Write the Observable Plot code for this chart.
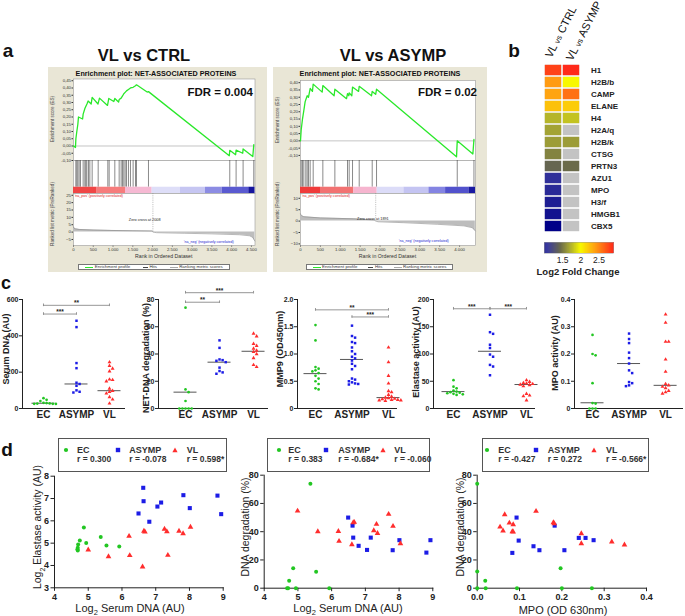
<!DOCTYPE html>
<html><head><meta charset="utf-8">
<script src="https://cdn.jsdelivr.net/npm/d3@7"></script>
<script src="https://cdn.jsdelivr.net/npm/@observablehq/plot@0.6"></script>
<style>
html,body{margin:0;padding:0;background:#fff;}
#root{position:relative;width:685px;height:616px;overflow:hidden;background:#fff;font-family:"Liberation Sans",Arial,Helvetica,sans-serif;}
.abs{position:absolute;}
svg{display:block;overflow:visible;}
</style></head><body><div id="root"></div>
<script>
const FONT = '"Liberation Sans", Arial, Helvetica, sans-serif';
const GREEN = "#22c622", BLUE = "#1c1ce6", RED = "#ff2d2d";

// ================= DATA =================
// ---- Panel a : GSEA VL vs CTRL ----
const esRank1  = [0,50,60,84,110,126,230,244,290,340,370,447,472,620,657,860,893,1020,1045,1140,1155,1205,1240,1272,1306,1340,1390,1441,1508,1568,1593,1862,1896,3940,3952,4100,4112,4280,4289,4534,4559];
const esScore1 = [0,-0.01,0.05,0.10,0.15,0.20,0.186,0.22,0.26,0.29,0.31,0.29,0.335,0.29,0.33,0.28,0.328,0.307,0.328,0.303,0.32,0.33,0.345,0.36,0.37,0.38,0.39,0.40,0.405,0.415,0.422,0.372,0.375,-0.067,-0.03,-0.06,-0.028,-0.05,-0.02,-0.073,0.009];
const hits1 = [59,84,110,143,177,244,287,312,337,379,413,472,624,868,902,1045,1155,1205,1239,1272,1306,1340,1390,1441,1508,1568,1593,1896,3952,4112,4289,4559];
const barStart1 = [0,598,1315,1989,2705,3337,3758,4433];
const barEnd1   = [598,1315,1989,2705,3337,3758,4433,4590];
const barColor1 = ["#f04646","#f67c7c","#f6b9d3","#dedef8","#c6c6f2","#8c8ce3","#5a5ad0","#16169e"];
const metricRank1 = [0,10,50,150,500,1000,1500,2000,2008,2100,2800,3500,4200,4450,4530,4585];
const metricVal1  = [3.5,2.8,2.2,1.8,1.4,1.1,0.9,0.7,0,-0.4,-0.8,-1.2,-1.8,-2.5,-3.5,-6];
const esTicks1 = [-0.10,-0.05,0,0.05,0.10,0.15,0.20,0.25,0.30,0.35,0.40,0.45];
const mTicks1 = [-5,0,5,10,15,20,25];
const rankTicks1 = [0,500,1000,1500,2000,2500,3000,3500,4000,4500];

// ---- Panel a : GSEA VL vs ASYMP ----
const esRank2  = [0,17,50,84,117,168,201,243,300,319,545,562,845,864,1157,1182,1215,1224,1290,1308,1460,1476,1786,1803,1890,1912,3923,3941,4334,4361];
const esScore2 = [0,0.075,0.15,0.21,0.27,0.31,0.30,0.36,0.34,0.39,0.335,0.38,0.31,0.355,0.29,0.325,0.31,0.33,0.31,0.37,0.34,0.375,0.31,0.34,0.32,0.355,-0.11,0.0,-0.09,0.01];
const hits2 = [17,50,84,134,168,201,243,319,562,864,1182,1224,1308,1476,1803,1912,3941,4361];
const barStart2 = [0,503,1342,1929,2600,3229,3648,4235];
const barEnd2   = [503,1342,1929,2600,3229,3648,4235,4400];
const barColor2 = ["#f03a3a","#f27272","#f6b5cf","#dcdcf8","#c4c4f2","#8484e2","#5252cc","#1a1aa2"];
const metricRank2 = [0,20,84,500,1340,1850,1891,1950,2600,3440,4110,4320,4395];
const metricVal2  = [3.2,2.5,1.9,1.4,1.0,0.5,0,-0.3,-0.7,-1.4,-2.1,-2.9,-4.3];
const esTicks2 = [-0.10,-0.05,0,0.05,0.10,0.15,0.20,0.25,0.30,0.35,0.40];
const mTicks2 = [-10,-5,0,5,10];
const rankTicks2 = [0,500,1000,1500,2000,2500,3000,3500,4000];

// ---- Panel b : heatmap ----
const genes = ["H1","H2B/b","CAMP","ELANE","H4","H2A/q","H2B/k","CTSG","PRTN3","AZU1","MPO","H3/f","HMGB1","CBX5"];
const hmCols = ["VL vs CTRL","VL vs ASYMP"];
const fcCtrl  = [2.8,2.42,2.38,2.25,1.75,1.68,1.65,1.55,1.42,1.0,0.95,0.85,0.75,0.6];
const fcAsymp = [2.9,2.0,2.6,2.2,1.8,null,1.65,null,1.45,null,null,null,null,null];
const fcStops  = [0.6,1.1,1.45,1.7,2.0,2.4,2.9];
const fcColors = ["#000088","#3c3c9e","#6a6a4a","#a8a832","#f8f800","#ffa012","#ff2a1a"];
const fcTicks = [1.5,2,2.5];

// ---- Panel c : dot plots ----
const cats = ["EC","ASYMP","VL"];
const serumEC = [57,48,41,31,30,28,27,26,26,25];
const serumASYMP = [483,448,250,222,142,135,125,100,92,88];
const serumVL = [255,235,220,205,160,157,150,110,97,92,83,63,50,28];
const serumCenter = [29,135,98];
const netEC = [74,14,12,5.5,0,0,0,0,0];
const netASYMP = [50,44.5,36,35.5,35,34,30,27.5,26.5,25.5];
const netVL = [55,53,47.5,46,44,42.5,41.5,40,37,32,30.5];
const netCenter = [12,34,42];
const mmpEC = [1.53,1.25,0.76,0.73,0.70,0.68,0.65,0.60,0.55,0.50,0.45,0.37,0.35];
const mmpASYMP = [1.52,1.33,1.30,1.22,1.20,1.12,1.05,1.00,0.95,0.92,0.88,0.82,0.78,0.72,0.55,0.53,0.50,0.48,0.46,0.45,0.44];
const mmpVL = [1.12,0.85,0.60,0.46,0.32,0.30,0.25,0.22,0.20,0.19,0.18,0.17,0.16,0.16,0.15,0.15,0.14];
const mmpCenter = [0.64,0.90,0.20];
const elaEC = [52,40,37,33,31,30,29,28,27,26,25];
const elaASYMP = [172,140,137,117,111,99,95,80,77,61];
const elaVL = [52,49,47,46,45,44,43,41,27,24,22.5,15];
const elaCenter = [31,105,44];
const mpoEC = [0.27,0.20,0.195,0.093,0.02,0.018,0,0,0];
const mpoASYMP = [0.275,0.255,0.24,0.205,0.185,0.165,0.14,0.13,0.097,0.093,0.085,0.082];
const mpoVL = [0.345,0.315,0.245,0.245,0.18,0.135,0.09,0.085,0.08,0.075,0.065,0.06,0.055];
const mpoCenter = [0.021,0.165,0.085];
// significance brackets: [from group, to group, y value, label]
const serumBr = [[0,1,520,"***"],[0,2,568,"**"]];
const netBr = [[0,1,78,"**"],[0,2,85,"***"]];
const mmpBr = [[0,2,1.81,"**"],[1,2,1.68,"***"]];
const elaBr = [[0,1,183,"***"],[1,2,183,"***"]];
const mpoBr = [];

// ---- Panel d : correlations ----
const s1ECx = [4.68,4.69,4.69,4.70,4.75,4.87,4.94,5.37,5.54,5.92];
const s1ECy = [4.73,4.67,4.79,4.94,5.12,5.70,5.01,5.28,4.90,4.85];
const s1ASx = [6.63,6.64,6.49,6.81,7.05,7.16,7.82,8.01,8.83,8.94];
const s1ASy = [7.48,6.88,6.33,5.96,6.64,6.82,7.15,6.57,7.13,6.30];
const s1VLx = [5.00,5.60,6.21,6.23,6.61,6.65,6.68,7.26,7.33,7.36,7.69,7.81,8.03];
const s1VLy = [4.70,4.40,5.31,4.45,3.94,5.54,5.51,5.63,5.52,4.46,5.54,5.43,5.72];
const s2ECx = [5.37,4.86,5.54,4.74,4.68,4.71,4.94,5.93];
const s2ECy = [73.9,14.2,11.6,5.2,0,0,0,0];
const s2ASx = [6.49,6.62,6.64,6.80,7.05,7.16,7.81,8.01,8.81,8.93];
const s2ASy = [50,44.3,35.8,30,27.1,35.8,26.9,34,25.2,34];
const s2VLx = [4.99,5.59,6.20,6.22,6.60,6.64,6.67,7.25,7.33,7.36,7.69,7.82,8.04];
const s2VLy = [54.7,40.1,40.3,33.3,30.9,46.5,46.7,40.8,45.3,38.9,52.4,43.9,31.6];
const s3ECx = [0,0,0.019,0,0.02,0.094,0.2,0.271,0.197];
const s3ECy = [74,11.8,5.2,0,0,0,0,0,14.2];
const s3ASx = [0.093,0.183,0.098,0.240,0.256,0.275,0.083,0.133,0.147,0.206];
const s3ASy = [50,44.3,33.7,35.6,35.6,34,25,29.7,26.9,26.9];
const s3VLx = [0.054,0.061,0.065,0.076,0.083,0.085,0.085,0.139,0.18,0.182,0.246,0.246,0.318,0.348];
const s3VLy = [43.4,40.6,52.1,46.2,40.1,39.9,45,54.5,46.5,45.8,38.7,31.6,32.8,30.7];
const rText1 = ["r = 0.300","r = -0.078","r = 0.598*"];
const rText2 = ["r = 0.383","r = -0.684*","r = -0.060"];
const rText3 = ["r = -0.427","r = 0.272","r = -0.566*"];

// ================= HELPERS =================
const root = document.getElementById("root");
function addPlot(node, left, top, parent = root) {
  node.style.position = "absolute";
  node.style.left = left + "px";
  node.style.top = top + "px";
  parent.appendChild(node);
  return node;
}
function txt(parent, html, x, y, o = {}) {
  const d = document.createElement("div");
  d.innerHTML = html;
  const a = o.anchor || "middle";
  const tx = a === "start" ? "0%" : a === "end" ? "-100%" : "-50%";
  Object.assign(d.style, {
    position: "absolute", left: x + "px", top: y + "px", whiteSpace: "nowrap", lineHeight: "1",
    fontFamily: FONT, fontSize: (o.size || 10) + "px", fontWeight: o.weight || "normal",
    color: o.color || "#222",
    transform: `translate(${tx},-50%)` + (o.rotate ? ` rotate(${o.rotate}deg)` : "")
  });
  parent.appendChild(d);
  return d;
}
const pw = d3.scaleLinear().domain(fcStops).range(fcColors).interpolate(d3.interpolateRgb);
const lo = fcStops[0], hi = fcStops[fcStops.length - 1];
const colorOpt = {type: "linear", domain: [lo, hi], interpolate: t => pw(lo + t * (hi - lo))};

// ================= PANEL A =================
function gsea(c) {
  const box = document.createElement("div");
  Object.assign(box.style, {position: "absolute", left: c.left + "px", top: c.top + "px", width: c.w + "px", height: c.h + "px", background: "#e9e6d6"});
  root.appendChild(box);
  const small = {fontFamily: FONT, fontSize: "4.3px", color: "#333", background: "transparent", overflow: "visible"};
  const xd = [0, c.xMax];
  const esData = c.esRank.map((r, i) => ({r, s: c.esScore[i]}));
  addPlot(Plot.plot({
    width: c.w, height: 93, marginLeft: c.ml, marginRight: c.mr, marginTop: c.esTop, marginBottom: 0,
    x: {domain: xd, axis: null},
    y: {domain: c.esDom, ticks: c.esTicks, tickFormat: d => d.toFixed(2).replace(".", ","), tickSize: 1.5, tickPadding: 1, label: null},
    style: small,
    marks: [
      Plot.frame({fill: "white", stroke: "#9a9a9a", strokeWidth: 0.6}),
      Plot.ruleY([0], {stroke: "#8a8a8a", strokeWidth: 0.5}),
      Plot.line(esData, {x: "r", y: "s", stroke: "#2ae82a", strokeWidth: 1.3})
    ]
  }), 0, 0, box);
  const bars = c.barStart.map((s, i) => ({s, e: c.barEnd[i], col: c.barColor[i]}));
  addPlot(Plot.plot({
    width: c.w, height: 33, marginLeft: c.ml, marginRight: c.mr, marginTop: 0, marginBottom: 0,
    x: {domain: xd, axis: null}, y: {domain: [0, 1], axis: null},
    style: small,
    marks: [
      Plot.frame({fill: "white", stroke: "#9a9a9a", strokeWidth: 0.6}),
      Plot.ruleX(c.hits, {y1: 0.19, y2: 1, stroke: "#3a3a3a", strokeWidth: 0.6}),
      Plot.rect(bars, {x1: "s", x2: "e", y1: 0, y2: 0.19, fill: d => d.col})
    ]
  }), 0, 93, box);
  const prof = c.mRank.map((r, i) => ({r, m: c.mVal[i]}));
  addPlot(Plot.plot({
    width: c.w, height: 79, marginLeft: c.ml, marginRight: c.mr, marginTop: 0, marginBottom: 27,
    x: {domain: xd, ticks: c.rankTicks, tickFormat: d => d3.format(",")(d).replace(",", "."), tickSize: 1.5, tickPadding: 1, label: null},
    y: {domain: c.mDom, ticks: c.mTicks, tickSize: 1.5, tickPadding: 1, label: null},
    style: small,
    marks: [
      Plot.frame({fill: "white", stroke: "#9a9a9a", strokeWidth: 0.6}),
      Plot.areaY(prof, {x: "r", y: "m", fill: "#bdbdbd"}),
      Plot.lineY(prof, {x: "r", y: "m", stroke: "#8a8a8a", strokeWidth: 0.6}),
      Plot.ruleX([c.zero], {y1: 0, y2: c.mDom[1], stroke: "#888", strokeWidth: 0.5, strokeDasharray: "1.2,1"}),
      Plot.text([c.zeroText], {x: c.zeroX, y: c.zeroY, text: d => d, fontSize: 3.8, fill: "#222"}),
      Plot.text([c.posText], {x: c.posX, y: c.posY, text: d => d, fontSize: 3.6, fill: "#e02020", textAnchor: "start"}),
      Plot.text([c.negText], {x: c.negX, y: c.negY, text: d => d, fontSize: 3.6, fill: "#2020d0"})
    ]
  }), 0, 126, box);
  // texts
  txt(box, "Enrichment plot: NET-ASSOCIATED PROTEINS", c.titleX, 7, {size: 7.2, weight: "bold", color: "#111"});
  txt(box, c.fdr, c.fdrX, 26, {size: 11.5, weight: "bold", color: "#111", anchor: "end"});
  txt(box, "Enrichment score (ES)", 5, (c.esTop + 93) / 2, {size: 4.6, rotate: -90, color: "#444"});
  txt(box, "Ranked list metric (PreRanked)", 5, 147, {size: 4.6, rotate: -90, color: "#444"});
  txt(box, "Rank in Ordered Dataset", c.ml + (c.w - c.ml - c.mr) / 2, 189.5, {size: 5.2, color: "#333"});
  const lg = document.createElement("div");
  Object.assign(lg.style, {position: "absolute", left: c.legX + "px", top: "196.5px", width: c.legW + "px", height: "6.5px", background: "#fff",
    border: "0.6px solid #777", boxSizing: "border-box", display: "flex", alignItems: "center", justifyContent: "space-around",
    fontFamily: FONT, fontSize: "4.4px", color: "#333", whiteSpace: "nowrap"});
  lg.innerHTML = '<span><span style="display:inline-block;width:8px;border-top:1px solid #2ae82a;vertical-align:middle;margin-right:1.5px"></span>Enrichment profile</span>' +
    '<span><span style="display:inline-block;width:5px;border-top:0.7px solid #444;vertical-align:middle;margin-right:1.5px"></span>Hits</span>' +
    '<span><span style="display:inline-block;width:8px;border-top:0.7px solid #aaa;vertical-align:middle;margin-right:1.5px"></span>Ranking metric scores</span>';
  box.appendChild(lg);
}
gsea({left: 48, top: 67, w: 219, h: 205, ml: 25, mr: 12.5, xMax: 4590, esTop: 11.5, esDom: [-0.10, 0.462],
  esRank: esRank1, esScore: esScore1, esTicks: esTicks1, hits: hits1, barStart: barStart1, barEnd: barEnd1, barColor: barColor1,
  mRank: metricRank1, mVal: metricVal1, mDom: [-9.1, 26.2], mTicks: mTicks1, rankTicks: rankTicks1, zero: 2008,
  zeroText: "Zero cross at 2008", zeroX: 1800, zeroY: 8.6, posText: "'na_pos' (positively correlated)", posX: 30, posY: 24.6,
  negText: "'na_neg' (negatively correlated)", negX: 3420, negY: -6.4, titleX: 108, fdr: "FDR = 0.004", fdrX: 205, legX: 30, legW: 152});
gsea({left: 273, top: 67, w: 214, h: 205, ml: 27, mr: 12, xMax: 4400, esTop: 13, esDom: [-0.135, 0.415],
  esRank: esRank2, esScore: esScore2, esTicks: esTicks2, hits: hits2, barStart: barStart2, barEnd: barEnd2, barColor: barColor2,
  mRank: metricRank2, mVal: metricVal2, mDom: [-10.7, 12.1], mTicks: mTicks2, rankTicks: rankTicks2, zero: 1891,
  zeroText: "Zero cross at 1891", zeroX: 1820, zeroY: 0.9, posText: "'na_pos' (positively correlated)", posX: 30, posY: 11.2,
  negText: "'na_neg' (negatively correlated)", negX: 3100, negY: -8.6, titleX: 107, fdr: "FDR = 0.02", fdrX: 204, legX: 33, legW: 147});
txt(root, "a", 8, 50, {size: 19, weight: "bold", color: "#111"});
txt(root, "VL vs CTRL", 144, 55, {size: 16.5, weight: "bold", color: "#111"});
txt(root, "VL vs ASYMP", 393, 55, {size: 16.5, weight: "bold", color: "#111"});

// ================= PANEL B =================
const cellsAll = [], cellsVal = [];
genes.forEach((g, i) => {
  [fcCtrl[i], fcAsymp[i]].forEach((v, j) => {
    cellsAll.push({gene: g, col: hmCols[j]});
    if (v != null) cellsVal.push({gene: g, col: hmCols[j], v});
  });
});
addPlot(Plot.plot({
  width: 165, height: 245, marginLeft: 23, marginRight: 105, marginTop: 58, marginBottom: 8,
  x: {domain: hmCols, axis: null, padding: 0},
  y: {domain: genes, axis: "right", tickSize: 0, tickPadding: 10.5, label: null, padding: 0},
  color: colorOpt,
  style: {fontFamily: FONT, fontSize: "8px", fontWeight: "bold", color: "#222", background: "transparent", overflow: "visible"},
  marks: [
    Plot.cell(cellsAll, {x: "col", y: "gene", fill: "#c3c3c3", inset: 0.8}),
    Plot.cell(cellsVal, {x: "col", y: "gene", fill: "v", inset: 0.8})
  ]
}), 520, 0);
const ramp = d3.range(1.0, 2.905, 0.01);
addPlot(Plot.plot({
  width: 80, height: 32, marginLeft: 4, marginRight: 7, marginTop: 2, marginBottom: 19,
  x: {domain: [1.0, 2.9], ticks: fcTicks, tickFormat: d => String(d), tickSize: 0, tickPadding: 3, label: null},
  color: colorOpt,
  style: {fontFamily: FONT, fontSize: "8.5px", color: "#222", background: "transparent", overflow: "visible"},
  marks: [
    Plot.ruleX(ramp, {x: d => d, stroke: d => d, strokeWidth: 1}),
    Plot.frame({stroke: "#999", strokeWidth: 0.5})
  ]
}), 540, 240);
txt(root, "Log2 Fold Change", 578, 272, {size: 9.5, weight: "bold", color: "#222"});
txt(root, 'VL <span style="font-size:8px">vs</span> CTRL', 561, 32, {size: 11, rotate: -63, color: "#111"});
txt(root, 'VL <span style="font-size:8px">vs</span> ASYMP', 584, 31, {size: 11, rotate: -63, color: "#111"});
txt(root, "b", 514, 50, {size: 19, weight: "bold", color: "#111"});

// ================= PANEL C =================
function swarm(vals, pxPerY, step) {
  const placed = [], res = new Array(vals.length);
  const order = vals.map((v, i) => i).sort((a, b) => vals[b] - vals[a]);
  for (const i of order) {
    const py = vals[i] * pxPerY;
    for (let k = 0; k < 60; k++) {
      const px = (k % 2 === 1 ? 1 : -1) * Math.ceil(k / 2) * step;
      if (placed.every(([qx, qy]) => (qx - px) ** 2 + (qy - py) ** 2 >= step * step * 0.95)) {
        placed.push([px, py]); res[i] = px; break;
      }
    }
  }
  return res;
}
const SYM = ["circle", "square", "triangle"], COL = [GREEN, BLUE, RED], RAD = [1.35, 1.4, 1.45];
function dotPanel(p) {
  const yTop = 299, yBot = 408, svgTop = 285, svgH = 145;
  const width = p.right - p.svgLeft + 3;
  const pxPerY = (yBot - yTop) / p.yMax;
  const pxPerX = (p.right - p.axis) / (p.xDom[1] - p.xDom[0]);
  const rows = [];
  p.groups.forEach((vals, g) => {
    const offs = swarm(vals, pxPerY, 3.1);
    vals.forEach((v, i) => rows.push({g, v, x: g + offs[i] / pxPerX}));
  });
  const half = 11.5 / pxPerX, tick = 1.3 / pxPerY;
  const br = p.br.map(([a, b, y, l]) => ({a, b, y, l, m: (a + b) / 2}));
  const brEnds = br.flatMap(d => [{x: d.a, y: d.y}, {x: d.b, y: d.y}]);
  const marks = [
    Plot.ruleY([0], {stroke: "#222", strokeWidth: 1}),
    Plot.ruleY(br, {y: "y", x1: "a", x2: "b", stroke: "#8a8a8a", strokeWidth: 0.9}),
    Plot.ruleX(brEnds, {x: "x", y1: d => d.y - tick, y2: d => d.y + tick, stroke: "#8a8a8a", strokeWidth: 0.9}),
    Plot.text(br, {x: "m", y: "y", text: "l", dy: -2.2, fontSize: 6.5, fontWeight: "bold", fill: "#222"}),
    Plot.ruleY(p.center.map((v, g) => ({v, g})), {y: "v", x1: d => d.g - half, x2: d => d.g + half, stroke: "#555", strokeWidth: 1})
  ];
  [0, 1, 2].forEach(g => marks.push(Plot.dot(rows.filter(d => d.g === g), {x: "x", y: "v", r: RAD[g], symbol: SYM[g], fill: COL[g], stroke: "none"})));
  marks.push(Plot.text(cats, {x: (d, i) => i, frameAnchor: "bottom", dy: 9.5, text: d => d, fontSize: 10, fontWeight: "bold", fill: "#222"}));
  addPlot(Plot.plot({
    width, height: svgH, marginLeft: p.axis - p.svgLeft, marginRight: 3, marginTop: yTop - svgTop, marginBottom: svgTop + svgH - yBot,
    x: {domain: p.xDom, axis: null},
    y: {domain: [0, p.yMax], ticks: p.ticks, tickFormat: p.fmt, tickSize: 3, tickPadding: 1, line: true, label: null},
    style: {fontFamily: FONT, fontSize: "7px", fontWeight: "bold", color: "#222", background: "transparent", overflow: "visible"},
    marks
  }), p.svgLeft, svgTop);
  txt(root, p.label, p.labX, p.labY, {size: 9, weight: "bold", rotate: -90, color: "#222"});
}
const f1 = d => d === 0 ? "0" : d3.format(".1f")(d);
dotPanel({svgLeft: 0, axis: 22, right: 125, xDom: [-0.636, 2.485], yMax: 600, ticks: [0, 200, 400, 600], fmt: d => String(d),
  groups: [serumEC, serumASYMP, serumVL], center: serumCenter, br: serumBr, label: "Serum DNA (AU)", labX: 5.5, labY: 349});
dotPanel({svgLeft: 130, axis: 158, right: 268, xDom: [-0.794, 2.44], yMax: 80, ticks: [0, 20, 40, 60, 80], fmt: d => String(d),
  groups: [netEC, netASYMP, netVL], center: netCenter, br: netBr, label: "NET-DNA degradation (%)", labX: 146, labY: 358});
dotPanel({svgLeft: 270, axis: 297, right: 397, xDom: [-0.493, 2.247], yMax: 2, ticks: [0, 0.5, 1, 1.5, 2], fmt: f1,
  groups: [mmpEC, mmpASYMP, mmpVL], center: mmpCenter, br: mmpBr, label: "MMP9 (OD450nm)", labX: 280, labY: 349});
dotPanel({svgLeft: 405, axis: 433, right: 535, xDom: [-0.548, 2.247], yMax: 200, ticks: [0, 50, 100, 150, 200], fmt: d => String(d),
  groups: [elaEC, elaASYMP, elaVL], center: elaCenter, br: elaBr, label: "Elastase activity (AU)", labX: 416, labY: 352});
dotPanel({svgLeft: 545, axis: 574, right: 683, xDom: [-0.493, 2.49], yMax: 0.4, ticks: [0, 0.1, 0.2, 0.3, 0.4], fmt: f1,
  groups: [mpoEC, mpoASYMP, mpoVL], center: mpoCenter, br: mpoBr, label: "MPO activity (AU)", labX: 555, labY: 353});
txt(root, "c", 6, 283, {size: 18, weight: "bold", color: "#111"});

// ================= PANEL D =================
const DR = [2.0, 2.3, 2.1];
function scatter(s) {
  const sets = [s.ec, s.as, s.vl];
  const marks = sets.map((set, g) => Plot.dot(set[0].map((x, i) => ({x, y: set[1][i]})), {x: "x", y: "y", r: DR[g], symbol: SYM[g], fill: COL[g], stroke: "none"}));
  addPlot(Plot.plot({
    width: s.w, height: 156, marginLeft: s.ml, marginRight: s.mr, marginTop: s.mt, marginBottom: 616 - 460 - (s.yBot - 460),
    x: {domain: s.xDom, ticks: s.xTicks, tickFormat: s.xFmt, tickSize: 3.5, tickPadding: 2, line: true, label: null},
    y: {domain: s.yDom, ticks: s.yTicks, tickFormat: d => String(d), tickSize: 3.5, tickPadding: 2, line: true, label: null},
    style: {fontFamily: FONT, fontSize: "9px", fontWeight: "bold", color: "#222", background: "transparent", overflow: "visible"},
    marks
  }), s.left, 460);
  txt(root, s.xLab, s.xLabX, 610, {size: 11, color: "#222"});
  txt(root, s.yLab, s.yLabX, 527, {size: 10.5, rotate: -90, color: "#222"});
  // legend box
  const lb = document.createElement("div");
  Object.assign(lb.style, {position: "absolute", left: s.box[0] + "px", top: "437.5px", width: s.box[1] + "px", height: "34px",
    border: "1px solid #555", boxSizing: "border-box", background: "#fff"});
  root.appendChild(lb);
  const names = ["EC", "ASYMP", "VL"];
  const shapes = [
    '<svg width="6" height="6"><circle cx="3" cy="3" r="2.1" fill="' + GREEN + '"/></svg>',
    '<svg width="6" height="6"><rect x="0.8" y="0.8" width="4.4" height="4.4" fill="' + BLUE + '"/></svg>',
    '<svg width="6" height="6"><path d="M3,0.6 L5.6,5.2 L0.4,5.2 Z" fill="' + RED + '"/></svg>'
  ];
  names.forEach((n, g) => {
    const sx = s.sym[g] - s.box[0], tx = s.tx[g] - s.box[0];
    txt(lb, shapes[g], sx, 11.5, {size: 6});
    txt(lb, n, tx, 11.5, {size: 9, weight: "bold", color: "#333", anchor: "start"});
    txt(lb, s.r[g], tx, 20.5, {size: 8.5, weight: "bold", color: "#333", anchor: "start"});
  });
}
scatter({left: 0, w: 232, ml: 54, mr: 9.3, mt: 15.7, yBot: 587.3, xDom: [4, 9], xTicks: [4, 5, 6, 7, 8, 9], xFmt: d => String(d),
  yDom: [3, 8], yTicks: [3, 4, 5, 6, 7, 8], ec: [s1ECx, s1ECy], as: [s1ASx, s1ASy], vl: [s1VLx, s1VLy],
  xLab: "Log<sub style='font-size:7.5px'>2</sub> Serum DNA (AU)", xLabX: 130, yLab: "Log<sub style='font-size:7px'>2</sub> Elastase activity (AU)", yLabX: 39,
  box: [58, 169], sym: [65, 116.7, 174], tx: [76, 128.3, 185.7], r: rText1});
scatter({left: 230, w: 212, ml: 33.7, mr: 9.7, mt: 14.7, yBot: 587.7, xDom: [4, 9], xTicks: [4, 5, 6, 7, 8, 9], xFmt: d => String(d),
  yDom: [0, 80], yTicks: [0, 20, 40, 60, 80], ec: [s2ECx, s2ECy], as: [s2ASx, s2ASy], vl: [s2VLx, s2VLy],
  xLab: "Log<sub style='font-size:7.5px'>2</sub> Serum DNA (AU)", xLabX: 348, yLab: "DNA degradation (%)", yLabX: 245,
  box: [267.3, 163], sym: [278.3, 325, 382.3], tx: [287.3, 337.3, 393.3], r: rText2});
scatter({left: 450, w: 235, ml: 26.7, mr: 39, mt: 14.7, yBot: 587.7, xDom: [0, 0.4], xTicks: [0, 0.1, 0.2, 0.3, 0.4], xFmt: d3.format(".1f"),
  yDom: [0, 80], yTicks: [0, 20, 40, 60, 80], ec: [s3ECx, s3ECy], as: [s3ASx, s3ASy], vl: [s3VLx, s3VLy],
  xLab: "MPO (OD 630nm)", xLabX: 563, yLab: "DNA degradation (%)", yLabX: 460,
  box: [481.7, 167], sym: [486, 535, 593.3], tx: [497.3, 546.7, 605], r: rText3});
txt(root, "d", 7, 449, {size: 19, weight: "bold", color: "#111"});
</script></body></html>
